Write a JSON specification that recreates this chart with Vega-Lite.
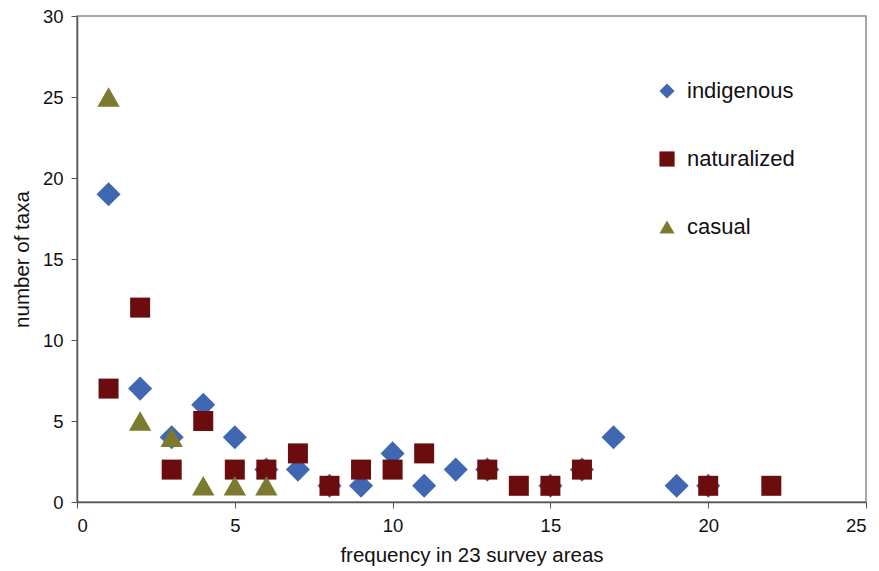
{
  "$schema": "https://vega.github.io/schema/vega-lite/v6.json",
  "width": 789,
  "height": 486,
  "autosize": "none",
  "padding": {"left": 77, "top": 16, "right": 13, "bottom": 69},
  "background": "white",
  "config": {
    "view": {"stroke": "#8c8c8c", "strokeWidth": 1.5},
    "font": "Liberation Sans"
  },
  "data": {
    "values": [
      {"frequency": 1, "taxa": 19, "status": "indigenous"},
      {"frequency": 2, "taxa": 7, "status": "indigenous"},
      {"frequency": 3, "taxa": 4, "status": "indigenous"},
      {"frequency": 4, "taxa": 6, "status": "indigenous"},
      {"frequency": 5, "taxa": 4, "status": "indigenous"},
      {"frequency": 6, "taxa": 2, "status": "indigenous"},
      {"frequency": 7, "taxa": 2, "status": "indigenous"},
      {"frequency": 8, "taxa": 1, "status": "indigenous"},
      {"frequency": 9, "taxa": 1, "status": "indigenous"},
      {"frequency": 10, "taxa": 3, "status": "indigenous"},
      {"frequency": 11, "taxa": 1, "status": "indigenous"},
      {"frequency": 12, "taxa": 2, "status": "indigenous"},
      {"frequency": 13, "taxa": 2, "status": "indigenous"},
      {"frequency": 15, "taxa": 1, "status": "indigenous"},
      {"frequency": 16, "taxa": 2, "status": "indigenous"},
      {"frequency": 17, "taxa": 4, "status": "indigenous"},
      {"frequency": 19, "taxa": 1, "status": "indigenous"},
      {"frequency": 20, "taxa": 1, "status": "indigenous"},
      {"frequency": 1, "taxa": 7, "status": "naturalized"},
      {"frequency": 2, "taxa": 12, "status": "naturalized"},
      {"frequency": 3, "taxa": 2, "status": "naturalized"},
      {"frequency": 4, "taxa": 5, "status": "naturalized"},
      {"frequency": 5, "taxa": 2, "status": "naturalized"},
      {"frequency": 6, "taxa": 2, "status": "naturalized"},
      {"frequency": 7, "taxa": 3, "status": "naturalized"},
      {"frequency": 8, "taxa": 1, "status": "naturalized"},
      {"frequency": 9, "taxa": 2, "status": "naturalized"},
      {"frequency": 10, "taxa": 2, "status": "naturalized"},
      {"frequency": 11, "taxa": 3, "status": "naturalized"},
      {"frequency": 13, "taxa": 2, "status": "naturalized"},
      {"frequency": 14, "taxa": 1, "status": "naturalized"},
      {"frequency": 15, "taxa": 1, "status": "naturalized"},
      {"frequency": 16, "taxa": 2, "status": "naturalized"},
      {"frequency": 20, "taxa": 1, "status": "naturalized"},
      {"frequency": 22, "taxa": 1, "status": "naturalized"},
      {"frequency": 1, "taxa": 25, "status": "casual"},
      {"frequency": 2, "taxa": 5, "status": "casual"},
      {"frequency": 3, "taxa": 4, "status": "casual"},
      {"frequency": 4, "taxa": 1, "status": "casual"},
      {"frequency": 5, "taxa": 1, "status": "casual"},
      {"frequency": 6, "taxa": 1, "status": "casual"}
    ]
  },
  "mark": {"type": "point", "filled": true, "opacity": 1},
  "encoding": {
    "x": {
      "field": "frequency",
      "type": "quantitative",
      "scale": {"domain": [0, 25], "nice": false, "zero": true},
      "axis": {
        "values": [0, 5, 10, 15, 20, 25],
        "grid": false,
        "title": "frequency in 23 survey areas",
        "titleFontSize": 20.5,
        "titleFontWeight": "normal",
        "titleColor": "#111",
        "titlePadding": 11,
        "labelFontSize": 18.5,
        "labelColor": "#111",
        "labelPadding": 8,
        "tickSize": 6,
        "tickColor": "#555",
        "domainColor": "#555",
        "domainWidth": 1.5
      }
    },
    "y": {
      "field": "taxa",
      "type": "quantitative",
      "scale": {"domain": [0, 30], "nice": false},
      "axis": {
        "values": [0, 5, 10, 15, 20, 25, 30],
        "grid": false,
        "title": "number of taxa",
        "titleFontSize": 20.5,
        "titleFontWeight": "normal",
        "titleColor": "#111",
        "titlePadding": 10,
        "labelFontSize": 18.5,
        "labelColor": "#111",
        "labelPadding": 8,
        "tickSize": 6,
        "tickColor": "#555",
        "domainColor": "#555",
        "domainWidth": 1.5
      }
    },
    "color": {
      "field": "status",
      "type": "nominal",
      "scale": {
        "domain": ["indigenous", "naturalized", "casual"],
        "range": ["#4068B2", "#6B0C0E", "#7B7A2E"]
      },
      "legend": {
        "title": null,
        "orient": "none",
        "legendX": 579,
        "legendY": 64,
        "labelFontSize": 22,
        "labelColor": "#111",
        "symbolSize": 230,
        "symbolOpacity": 1,
        "rowPadding": 46,
        "labelOffset": 9
      }
    },
    "shape": {
      "field": "status",
      "type": "nominal",
      "scale": {
        "domain": ["indigenous", "naturalized", "casual"],
        "range": ["diamond", "square", "triangle-up"]
      },
      "legend": null
    },
    "size": {
      "condition": [
        {"test": "datum.status === 'indigenous'", "value": 580},
        {"test": "datum.status === 'casual'", "value": 500}
      ],
      "value": 400
    }
  }
}
